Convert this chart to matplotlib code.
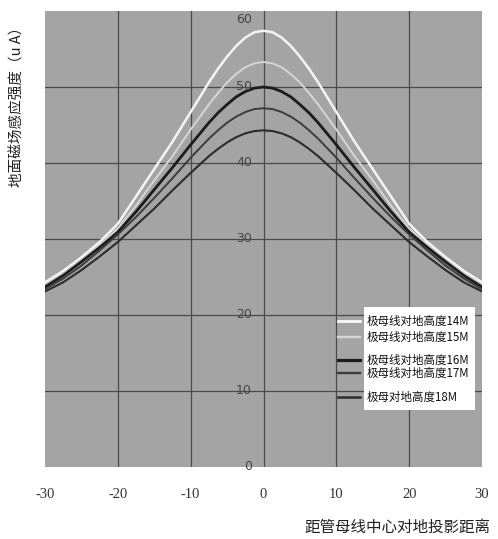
import numpy as np
import matplotlib
matplotlib.use('Agg')
import matplotlib.pyplot as plt
from matplotlib.patches import Rectangle

plt.rcParams['font.family'] = ['Noto Sans CJK SC', 'DejaVu Sans']
plt.rcParams['axes.unicode_minus'] = False

# distance from centre (m), curves are symmetric about 0
x_half = [0, 1.25, 2.5, 3.75, 5, 6.25, 7.5, 10, 12.5, 15, 17.5, 20, 22.5, 25, 27.5, 30]
b14 = [57.4, 57.2, 56.5, 55.4, 54.0, 52.4, 50.6, 46.7, 42.8, 39.2, 35.6, 32.0, 29.6, 27.6, 25.8, 24.3]
b15 = [53.3, 53.1, 52.6, 51.7, 50.6, 49.2, 47.7, 44.4, 40.9, 37.7, 34.4, 31.4, 29.2, 27.1, 25.4, 23.9]
b16 = [50.0, 49.85, 49.4, 48.7, 47.7, 46.6, 45.3, 42.4, 39.4, 36.5, 33.6, 30.9, 28.9, 27.0, 25.2, 23.7]
b17 = [47.2, 47.1, 46.7, 46.1, 45.3, 44.3, 43.2, 40.7, 38.0, 35.4, 32.9, 30.6, 28.5, 26.5, 24.8, 23.4]
b18 = [44.3, 44.2, 43.9, 43.4, 42.7, 41.85, 40.9, 38.7, 36.4, 34.0, 31.8, 29.6, 27.7, 25.9, 24.3, 23.1]
labels = ['极母线对地高度14M', '极母线对地高度15M', '极母线对地高度16M',
          '极母线对地高度17M', '极母对地高度18M']
series = [b14, b15, b16, b17, b18]
colors = ['#f4f4f4', '#d6d6d6', '#1c1c1c', '#3c3c3c', '#2c2c2c']
widths = [1.8, 1.4, 2.0, 1.4, 1.5]

xticks = [-30, -20, -10, 0, 10, 20, 30]
yticks = [0, 10, 20, 30, 40, 50, 60]

xs = np.array(x_half)
x_full = np.concatenate([-xs[::-1], xs[1:]])

fig = plt.figure(figsize=(4.98, 5.39), dpi=100)
ax = fig.add_axes([45/498, 1 - 467/539, 437/498, 456/539])
ax.set_facecolor('#a4a4a4')
for s in ax.spines.values():
    s.set_visible(False)

for v in xticks[1:-1]:
    ax.axvline(v, color='#4a4a4a', lw=0.9, zorder=1)
for v in yticks[1:-1]:
    ax.axhline(v, color='#4a4a4a', lw=0.9, zorder=1)

for b, c, w in zip(series, colors, widths):
    b = np.array(b)
    y_full = np.concatenate([b[::-1], b[1:]])
    ax.plot(x_full, y_full, color=c, lw=w, zorder=3, solid_joinstyle='round')

ax.set_xlim(-30, 30)
ax.set_ylim(0, 60)
ax.set_xticks(xticks)
ax.set_xticklabels([str(v) for v in xticks], family='Liberation Serif',
                   fontsize=10.5, color='#333333')
ax.tick_params(axis='x', length=0, pad=15)
ax.set_yticks([])

for v in yticks:
    va = 'top' if v == 60 else 'center'
    yy = 59.8 if v == 60 else v
    ax.text(-1.6, yy, str(v), ha='right', va=va, fontsize=9,
            color='#444444', family='DejaVu Sans', zorder=4)

fig.text(17/498, 1 - 103/539, '地面磁场感应强度（u A）', rotation=90,
         ha='center', va='center', fontsize=10.5, color='#222222',
         fontweight='medium')
fig.text(490/498, 1 - 527/539, '距管母线中心对地投影距离', ha='right',
         va='center', fontsize=11.2, color='#222222', fontweight='medium')

# legend drawn by hand: handles sit left of the white box
ax.add_patch(Rectangle((0.729, 0.125), 0.256, 0.225, transform=ax.transAxes,
                       facecolor='white', edgecolor='none', zorder=5))
leg_y = [321, 337, 360, 373, 397]
for lab, c, w, py in zip(labels, colors, widths, leg_y):
    ya = (467 - py) / 456
    ax.plot([0.67, 0.72], [ya, ya], transform=ax.transAxes, color=c,
            lw=w + 0.3, zorder=6, clip_on=False)
    ax.text(0.735, ya, lab, transform=ax.transAxes, ha='left', va='center',
            fontsize=8.3, color='#111111', zorder=6)

fig.savefig('out.png', dpi=100, facecolor='white')
